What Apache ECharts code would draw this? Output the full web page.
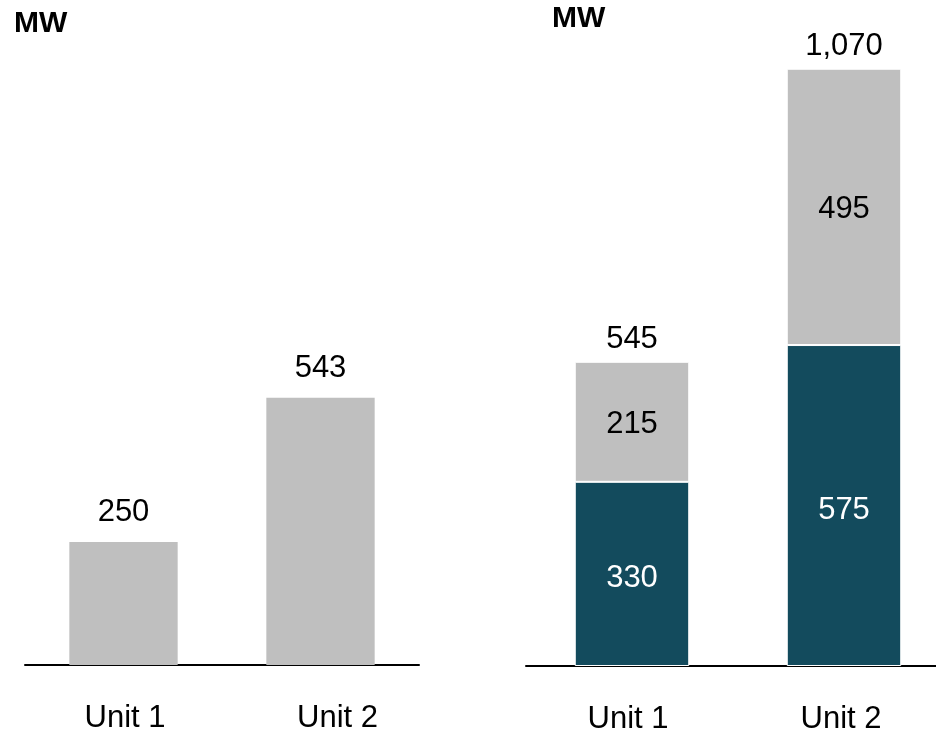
<!DOCTYPE html>
<html>
<head>
<meta charset="utf-8">
<script src="https://cdn.jsdelivr.net/npm/echarts@6/dist/echarts.min.js"></script>
<style>
	html, body { margin: 0; padding: 0; background: #fff; }
	#chart { width: 936px; height: 731px; }
</style>
</head>
<body>
<div id="chart"></div>
<script>
// data
var categories = ['Unit 1', 'Unit 2'];
var leftValues = [250, 543];
var baseValues = [330, 575];
var addedValues = [215, 495];
var totalValues = [545, 1070];

var grey = '#BFBFBF';
var teal = '#134B5D';
var font = '"Liberation Sans", Arial, sans-serif';

var dom = document.getElementById('chart');
var myChart = echarts.init(dom);

function fmt(v) {
	return Number(v).toLocaleString('en-US');
}

// 标签左右微调 (padding: [上, 右, 下, 左])
var axisX = function (idx, pads) {
	return {
		type: 'category',
		gridIndex: idx,
		data: categories.map(function (c, i) {
			return { value: c, textStyle: { padding: pads[i] } };
		}),
		axisLine: { lineStyle: { color: '#000', width: 2 } },
		axisTick: { show: false },
		axisLabel: { color: '#000', fontSize: 31, fontFamily: font, margin: 38 }
	};
};
var axisY = function (idx, max) {
	return {
		type: 'value',
		gridIndex: idx,
		min: 0,
		max: max,
		show: false,
		splitLine: { show: false }
	};
};

var option = {
	animation: false,
	title: [
		{ text: 'MW', left: 9, top: 4, textStyle: { fontSize: 30, fontWeight: 'bold', fontFamily: font, color: '#000' } },
		{ text: 'MW', left: 547, top: -1, textStyle: { fontSize: 30, fontWeight: 'bold', fontFamily: font, color: '#000' } }
	],
	grid: [
		{ left: 25, width: 394, top: 173, bottom: 66, outerBoundsMode: 'none' },
		{ left: 526, width: 424, top: 52, bottom: 65, outerBoundsMode: 'none' }
	],
	xAxis: [
		axisX(0, [[0, 0, 0, 3], [0, 0, 0, 34]]),
		axisX(1, [[0, 8, 0, 0], [0, 6, 0, 0]])
	],
	yAxis: [axisY(0, 1000), axisY(1, 1100)],
	series: [
		{
			type: 'bar',
			xAxisIndex: 0,
			yAxisIndex: 0,
			barWidth: '55%',
			data: leftValues,
			itemStyle: { color: grey },
			label: { show: true, position: 'top', distance: 14, color: '#000', fontSize: 31, fontFamily: font }
		},
		{
			type: 'bar',
			xAxisIndex: 1,
			yAxisIndex: 1,
			stack: 'u',
			barWidth: '54%',
			data: baseValues,
			itemStyle: { color: teal, borderColor: '#fff', borderWidth: 1 },
			label: { show: true, position: 'inside', offset: [0, 5], color: '#fff', fontSize: 31, fontFamily: font }
		},
		{
			type: 'bar',
			xAxisIndex: 1,
			yAxisIndex: 1,
			stack: 'u',
			barWidth: '54%',
			data: addedValues,
			itemStyle: { color: grey, borderColor: '#fff', borderWidth: 1 },
			label: { show: true, position: 'inside', offset: [0, 3], color: '#000', fontSize: 31, fontFamily: font }
		},
		{
			// 合计标签
			type: 'bar',
			xAxisIndex: 1,
			yAxisIndex: 1,
			barWidth: '54%',
			barGap: '-100%',
			z: 1,
			silent: true,
			data: totalValues,
			itemStyle: { color: 'rgba(0,0,0,0)' },
			label: {
				show: true, position: 'top', distance: 7, color: '#000', fontSize: 31, fontFamily: font,
				formatter: function (p) { return fmt(p.value); }
			}
		}
	]
};

myChart.setOption(option, true);
</script>
</body>
</html>
